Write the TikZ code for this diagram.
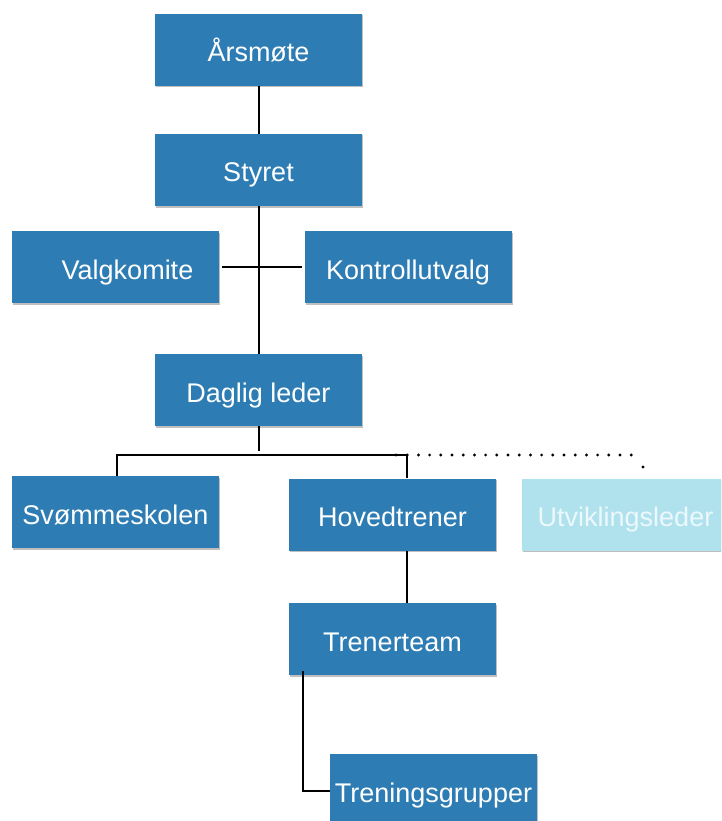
\documentclass[tikz,border=0pt]{standalone}
\usepackage{fontspec}
\setmainfont{Liberation Sans}
\usetikzlibrary{shadows}
\definecolor{boxblue}{RGB}{45,125,180}
\definecolor{lightbox}{RGB}{176,226,238}
\definecolor{lighttext}{RGB}{236,248,252}
\tikzset{
  orgbox/.style={rectangle, fill=boxblue, text=white, minimum width=207pt, minimum height=72pt,
    inner sep=0pt, text height=24pt, text depth=0pt, font=\fontsize{27}{30}\selectfont,
    drop shadow={shadow xshift=1pt, shadow yshift=-1.5pt, opacity=0.25, fill=black}},
  lightorgbox/.style={orgbox, fill=lightbox, text=lighttext},
  conn/.style={draw=black, line width=2pt},
  dotconn/.style={draw=black, line width=3.2pt, line cap=round, dash pattern=on 0pt off 11.2pt}
}
\begin{document}
\begin{tikzpicture}[x=1pt,y=-1pt]
\useasboundingbox (0,0) rectangle (721,821);
\clip (0,0) rectangle (721,821);
\node[orgbox] (ars) at (258.5,50) {Årsmøte};
\node[orgbox] (styret) at (258.5,170) {Styret};
\node[orgbox] (valg) at (115.5,267) {\hspace*{24pt}Valgkomite};
\node[orgbox] (kontroll) at (408,267) {Kontrollutvalg};
\node[orgbox] (daglig) at (258.5,390) {Daglig leder};
\node[orgbox] (svom) at (115.5,512) {Svømmeskolen};
\node[orgbox] (hoved) at (392.5,514.5) {Hovedtrener};
\node[lightorgbox] (utv) at (625.5,514.5) {Utviklingsleder};
\node[orgbox] (trener) at (392.5,639) {Trenerteam};
\node[orgbox] (trening) at (433.5,790) {Treningsgrupper};

\coordinate (dl) at (258.5,451);
\coordinate (hl) at (117,455);
\coordinate (hr) at (407,455);
\coordinate (ds) at (396,455);
\coordinate (de) at (640,455);
\coordinate (dd) at (643,467);
\coordinate (tt) at (303,671);
\coordinate (tb) at (303,791);

\draw[conn] (ars.south) -- (styret.north);
\draw[conn] (styret.south) -- (daglig.north);
\draw[conn] ([xshift=3pt]valg.east) -- ([xshift=-2pt]kontroll.west);
\draw[conn] (daglig.south) -- (dl);
\draw[conn] (svom.north -| hl) -- (hl) -- (hr) -- (hoved.north -| hr);
\draw[dotconn] (ds) -- (de);
\fill (dd) circle (1.6pt);
\draw[conn] (hoved.south -| hr) -- (trener.north -| hr);
\draw[conn] (tt) -- (tb) -- (trening.west |- tb);
\end{tikzpicture}
\end{document}
